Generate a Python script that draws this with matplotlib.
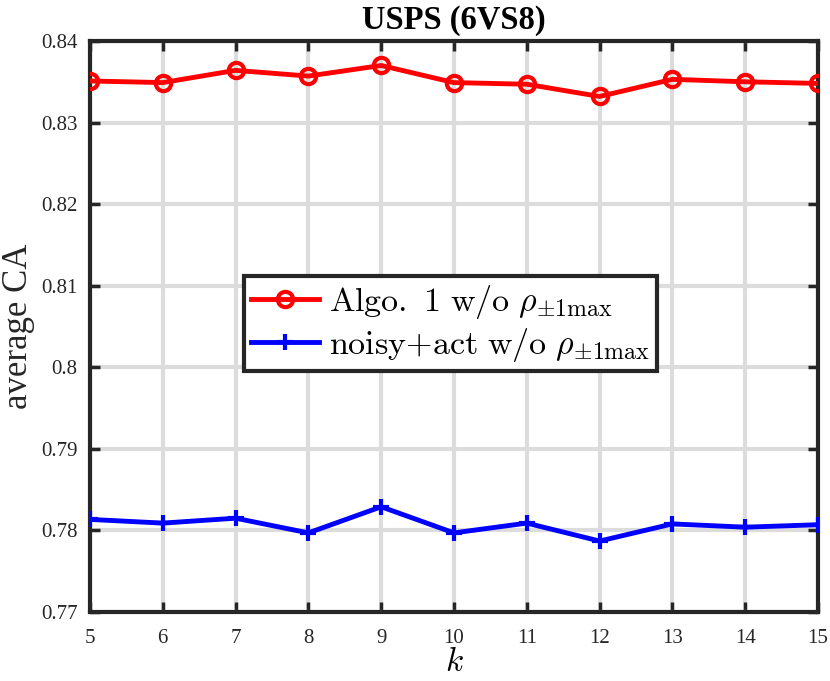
import matplotlib
matplotlib.use("Agg")
import matplotlib.pyplot as plt

k = [5, 6, 7, 8, 9, 10, 11, 12, 13, 14, 15]
algo1 = [0.8351, 0.8349, 0.8364, 0.8357, 0.8370, 0.8349, 0.8347, 0.8332, 0.8353, 0.8350, 0.8348]
noisy_act = [0.78135, 0.7809, 0.7815, 0.7797, 0.7829, 0.7797, 0.7809, 0.7787, 0.7808, 0.7804, 0.7807]
yticks = [0.77, 0.78, 0.79, 0.80, 0.81, 0.82, 0.83, 0.84]
ytick_labels = ["0.77", "0.78", "0.79", "0.8", "0.81", "0.82", "0.83", "0.84"]
labels = [r"$\mathrm{Algo.\ 1\ w/o}\ \rho_{\pm1\mathrm{max}}$",
          r"$\mathrm{noisy{+}act\ w/o}\ \rho_{\pm1\mathrm{max}}$"]

plt.rcParams["font.family"] = ["Liberation Serif", "DejaVu Serif"]
plt.rcParams["mathtext.fontset"] = "cm"

fig = plt.figure(figsize=(8.3, 6.81), dpi=100)
ax = fig.add_axes([0.1084, 0.1013, 0.8771, 0.8385])

ax.plot(k, algo1, color="red", lw=3.5, marker="o", ms=11, mfc="none", mew=3, label=labels[0], zorder=3)
ax.plot(k, noisy_act, color="blue", lw=3.5, marker="+", ms=11, mew=3, label=labels[1], zorder=3)

ax.set_xlim(5, 15)
ax.set_ylim(0.77, 0.84)
ax.set_xticks(k)
ax.set_xticklabels([str(v) for v in k])
ax.set_yticks(yticks)
ax.set_yticklabels(ytick_labels)
ax.tick_params(direction="in", length=7, width=2.5, labelsize=15, colors="#262626",
               top=True, right=True)
ax.tick_params(axis="x", pad=12)
ax.tick_params(axis="y", pad=9)
for lab in ax.get_xticklabels() + ax.get_yticklabels():
    lab.set_color("#262626")
ax.grid(True, color="#dcdcdc", lw=3)
ax.set_axisbelow(True)
for s in ax.spines.values():
    s.set_linewidth(3)
    s.set_color("#262626")

ax.set_xlabel(r"$k$", fontsize=24, labelpad=0)
ax.set_ylabel("average CA", fontsize=25, color="#262626", labelpad=4)
ax.set_title("USPS (6VS8)", fontsize=23.5, fontweight="bold", pad=9)

leg = ax.legend(loc="center", bbox_to_anchor=(0.495, 0.505), fontsize=24.5, frameon=True,
                fancybox=False, edgecolor="#262626", handlelength=2.0, handletextpad=0.3,
                borderpad=0.2, labelspacing=0.15, borderaxespad=0, framealpha=1)
leg.get_frame().set_linewidth(3)

fig.savefig("out.png", dpi=100)
